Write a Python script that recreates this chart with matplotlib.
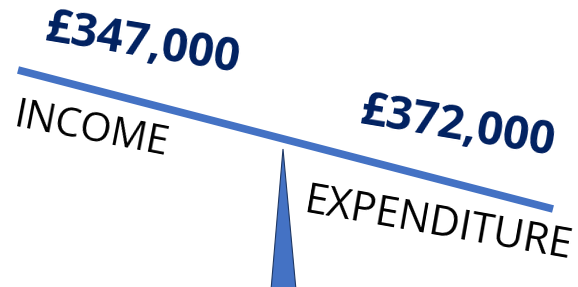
import matplotlib.pyplot as plt
import numpy as np

# Balance beam: income vs expenditure
labels = ["INCOME", "EXPENDITURE"]
amounts = ["£347,000", "£372,000"]

# beam end points and fulcrum (pixel space)
beam_x = [18, 553]
beam_y = [70, 209]
fulcrum_x = [283, 271, 296]
fulcrum_y = [149, 290, 290]

fig = plt.figure(figsize=(5.78, 2.87), dpi=100)
ax = fig.add_axes([0, 0, 1, 1])
ax.set_xlim(0, 578)
ax.set_ylim(287, 0)
ax.axis("off")

ax.plot(beam_x, beam_y, color="#4472C4", linewidth=5.5, solid_capstyle="butt", zorder=2)
ax.fill(fulcrum_x, fulcrum_y, facecolor="#4472C4", edgecolor="#1F3864", linewidth=0.8, zorder=1)

# text is tilted a bit less than the beam
navy = "#002060"
font = "Open Sans"
ax.text(43, 40, amounts[0], rotation=-9.5, rotation_mode="anchor", ha="left", va="baseline",
        fontsize=33, fontweight="bold", color=navy, family=font)
ax.text(12, 126, labels[0], rotation=-11, rotation_mode="anchor", ha="left", va="baseline",
        fontsize=29, color="black", family=font)
ax.text(358, 123, amounts[1], rotation=-9.5, rotation_mode="anchor", ha="left", va="baseline",
        fontsize=33, fontweight="bold", color=navy, family=font)
ax.text(303, 212, labels[1], rotation=-10, rotation_mode="anchor", ha="left", va="baseline",
        fontsize=30, color="black", family=font)

plt.savefig("out.png", dpi=100)
